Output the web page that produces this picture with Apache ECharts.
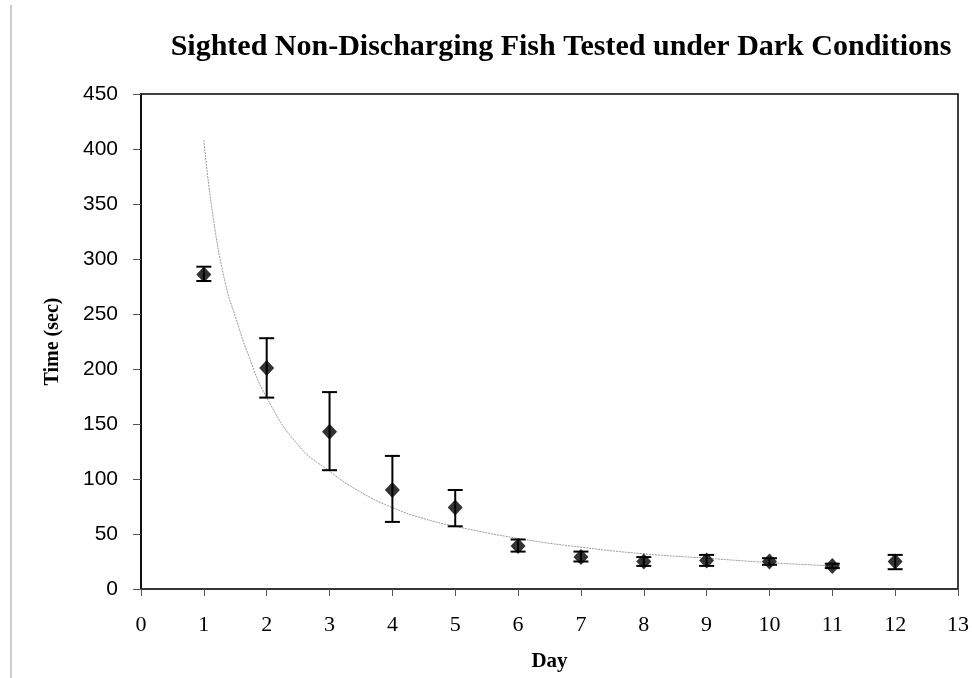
<!DOCTYPE html>
<html>
<head>
<meta charset="utf-8">
<script src="https://cdn.jsdelivr.net/npm/echarts@6/dist/echarts.min.js"></script>
<style>
  html, body { margin: 0; padding: 0; background: #fff; }
  #chart { width: 972px; height: 678px; }
</style>
</head>
<body>
<div id="chart"></div>
<script>
// mean time per day
const days = [1, 2, 3, 4, 5, 6, 7, 8, 9, 10, 11, 12];
const meanTime = [286, 201, 143, 90, 74, 39, 29, 25, 26, 25, 21, 25];
const errLow = [280, 174, 108, 61, 57, 34, 25, 21, 21, 22, 19, 18];
const errHigh = [293, 228, 179, 121, 90, 45, 34, 29, 31, 28, 23, 31];

// trend line
const trendDay = [1, 1.15, 1.35, 1.5, 1.7, 2, 2.5, 3, 3.5, 4, 4.5, 5, 6, 7, 8, 9, 10, 11];
const trendTime = [408, 337, 276, 248, 214, 174, 131, 107, 88, 74, 64, 57, 46, 38, 32, 28, 24, 21];

const xTicks = [0, 13, 1];
const yTicks = [0, 450, 50];

const chart = echarts.init(document.getElementById('chart'));

const option = {
  backgroundColor: '#fff',
  animation: false,
  title: {
    text: 'Sighted Non-Discharging Fish Tested under Dark Conditions',
    left: 556,
    top: 27,
    textAlign: 'center',
    textStyle: {
      fontFamily: 'Liberation Serif',
      fontWeight: 'bold',
      fontSize: 30,
      color: '#000'
    }
  },
  grid: {
    left: 141,
    right: 14,
    top: 94,
    bottom: 89,
    show: true,
    borderColor: '#000',
    borderWidth: 1.5,
    backgroundColor: 'transparent'
  },
  xAxis: {
    type: 'value',
    min: xTicks[0],
    max: xTicks[1],
    interval: xTicks[2],
    name: 'Day',
    nameLocation: 'middle',
    nameGap: 62,
    nameTextStyle: { fontFamily: 'Liberation Serif', fontWeight: 'bold', fontSize: 21, color: '#000' },
    axisLine: { lineStyle: { color: '#333', width: 1.5 } },
    axisTick: { show: true, length: 7, lineStyle: { color: '#555' } },
    axisLabel: { fontFamily: 'Liberation Serif', fontSize: 22, color: '#000', margin: 25 },
    splitLine: { show: false }
  },
  yAxis: {
    type: 'value',
    min: yTicks[0],
    max: yTicks[1],
    interval: yTicks[2],
    name: 'Time (sec)',
    nameLocation: 'middle',
    nameGap: 78,
    nameTextStyle: { fontFamily: 'Liberation Serif', fontWeight: 'bold', fontSize: 20, color: '#000' },
    axisLine: { show: true, lineStyle: { color: '#000', width: 1.5 } },
    axisTick: { show: true, length: 8, lineStyle: { color: '#555' } },
    axisLabel: { fontFamily: 'Liberation Sans', fontSize: 21, color: '#000', margin: 23 },
    splitLine: { show: false }
  },
  series: [
    {
      name: 'trend',
      type: 'line',
      data: trendDay.map((d, i) => [d, trendTime[i]]),
      smooth: true,
      showSymbol: false,
      lineStyle: { color: '#999', width: 1, type: [2, 1] },
      z: 1
    },
    {
      name: 'error',
      type: 'custom',
      data: days.map((d, i) => [d, errLow[i], errHigh[i]]),
      renderItem: function (params, api) {
        const lo = api.coord([api.value(0), api.value(1)]);
        const hi = api.coord([api.value(0), api.value(2)]);
        const w = 7.5;
        const style = { stroke: '#000', lineWidth: 2 };
        return {
          type: 'group',
          children: [
            { type: 'line', shape: { x1: lo[0], y1: lo[1], x2: hi[0], y2: hi[1] }, style: style },
            { type: 'line', shape: { x1: lo[0] - w, y1: lo[1], x2: lo[0] + w, y2: lo[1] }, style: style },
            { type: 'line', shape: { x1: hi[0] - w, y1: hi[1], x2: hi[0] + w, y2: hi[1] }, style: style }
          ]
        };
      },
      z: 2
    },
    {
      name: 'mean',
      type: 'scatter',
      data: days.map((d, i) => [d, meanTime[i]]),
      symbol: 'diamond',
      symbolSize: [15, 16],
      itemStyle: { color: '#000' },
      z: 3
    }
  ],
  graphic: [
    {
      type: 'line',
      shape: { x1: 11, y1: 5, x2: 11, y2: 678 },
      style: { stroke: '#999', lineWidth: 1 }
    }
  ]
};

chart.setOption(option);
</script>
</body>
</html>
